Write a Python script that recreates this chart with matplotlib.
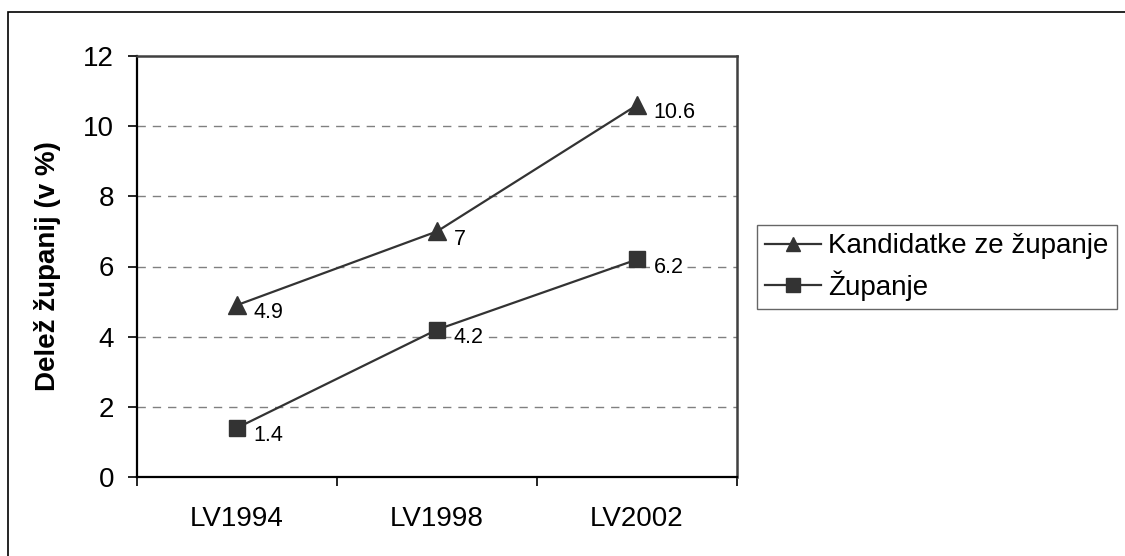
import matplotlib.pyplot as plt
from matplotlib.patches import Rectangle

plt.rcParams["font.family"] = ["Liberation Sans", "DejaVu Sans"]

# data
categories = ["LV1994", "LV1998", "LV2002"]
kandidatke = [4.9, 7.0, 10.6]
zupanje = [1.4, 4.2, 6.2]
kandidatke_labels = ["4.9", "7", "10.6"]
zupanje_labels = ["1.4", "4.2", "6.2"]

LINE_C = "#333333"

fig = plt.figure(figsize=(11.25, 5.56), dpi=100)
ax = fig.add_axes([137 / 1125, 1 - 477 / 556, 600 / 1125, 421 / 556])

x = list(range(len(categories)))
ax.plot(x, kandidatke, color=LINE_C, lw=1.6, marker="^", markersize=13,
        label="Kandidatke ze županje", zorder=3)
ax.plot(x, zupanje, color=LINE_C, lw=1.6, marker="s", markersize=11,
        label="Županje", zorder=3)

# data labels, white box so the grid dashes stop behind them
for vals, labels in [(kandidatke, kandidatke_labels), (zupanje, zupanje_labels)]:
    for xi, yi, t in zip(x, vals, labels):
        ax.annotate(t, (xi, yi), xytext=(12, -5.5), textcoords="offset points",
                    ha="left", va="center", fontsize=15.5, zorder=4,
                    bbox=dict(boxstyle="square,pad=0.05", fc="white", ec="none"))

ax.set_xlim(-0.5, 2.5)
ax.set_ylim(0, 12)
ax.set_yticks(range(0, 13, 2))
ax.set_xticks([-0.5, 0.5, 1.5, 2.5])
ax.set_xticklabels([])
ax.set_xticks(x, minor=True)
ax.set_xticklabels(categories, minor=True, fontsize=20)
ax.tick_params(axis="x", which="minor", length=0, pad=21)
ax.tick_params(axis="x", which="major", length=6.5, width=1.2, direction="out")
ax.tick_params(axis="y", labelsize=20, length=6.5, width=1.2, direction="out", pad=10)

for y in range(2, 12, 2):
    ax.axhline(y, color="#808080", lw=1, ls=(0, (6, 5)), zorder=1)

for side in ["left", "bottom"]:
    ax.spines[side].set_linewidth(1.6)
    ax.spines[side].set_color("black")
for side in ["top", "right"]:
    ax.spines[side].set_linewidth(1.8)
    ax.spines[side].set_color("#404040")

ax.set_ylabel("Delež županij (v %)", fontsize=20, fontweight="bold", labelpad=16)

leg = fig.legend(loc="upper left", bbox_to_anchor=(757 / 1125, 1 - 225 / 556),
                 fontsize=20, frameon=True, fancybox=False, handlelength=2.0,
                 handletextpad=0.25, borderpad=0.3, labelspacing=0.4,
                 borderaxespad=0)
leg.get_frame().set_edgecolor("#404040")
leg.get_frame().set_linewidth(1.0)
for h in leg.legend_handles:
    h.set_markersize(10)
    h.set_linewidth(1.6)

fig.patches.append(Rectangle((8 / 1125, -0.05), 1.1, 1 - 12 / 556 + 0.05,
                             transform=fig.transFigure, fill=False,
                             edgecolor="black", lw=1.2))

fig.savefig("out.png", dpi=100)
